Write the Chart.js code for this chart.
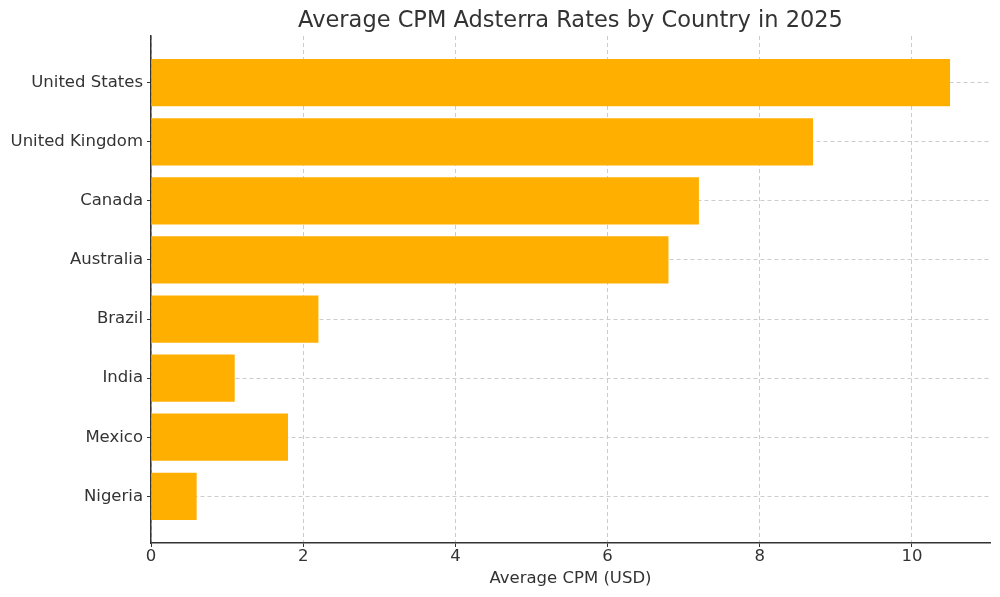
<!DOCTYPE html>
<html>
<head>
<meta charset="utf-8">
<title>Average CPM Adsterra Rates by Country in 2025</title>
<script src="https://cdn.jsdelivr.net/npm/chart.js@4/dist/chart.umd.min.js"></script>
<style>
  html, body { margin: 0; padding: 0; background: #fff; }
  #wrap { width: 1000px; height: 597px; }
</style>
</head>
<body>
<div id="wrap"><canvas id="cpmChart" width="1000" height="597"></canvas></div>
<script>
// data
const countries = ['United States', 'United Kingdom', 'Canada', 'Australia', 'Brazil', 'India', 'Mexico', 'Nigeria'];
const cpmValues = [10.5, 8.7, 7.2, 6.8, 2.2, 1.1, 1.8, 0.6];
const xTicks = [0, 2, 4, 6, 8, 10];

const FONT = "'DejaVu Sans', sans-serif";
const INK = '#333333';

const points = countries.map((c, i) => ({ x: cpmValues[i], y: i }));

const config = {
    type: 'bar',
    data: {
        datasets: [{
            label: 'Average CPM (USD)',
            data: points,
            backgroundColor: '#FFAF00',
            borderWidth: 0,
            barPercentage: 0.8,
            categoryPercentage: 1.0
        }]
    },
    options: {
        indexAxis: 'y',
        responsive: false,
        animation: false,
        layout: { padding: { left: 0, right: 10, top: 0, bottom: 8 } },
        plugins: {
            legend: { display: false },
            tooltip: { enabled: false },
            title: {
                display: true,
                text: 'Average CPM Adsterra Rates by Country in 2025',
                fullSize: false,
                color: INK,
                font: { family: FONT, size: 22.5, weight: 'normal' },
                padding: { top: 8, bottom: 1 }
            }
        },
        scales: {
            x: {
                type: 'linear',
                min: 0,
                max: 11.025,
                afterBuildTicks: function(axis) {
                    axis.ticks = xTicks.map(v => ({ value: v }));
                },
                afterFit: function(axis) { axis.height = 46; },
                ticks: {
                    color: INK,
                    font: { family: FONT, size: 16.5 },
                    padding: 0,
                    maxRotation: 0
                },
                grid: {
                    color: '#cccccc',
                    lineWidth: 1,
                    tickColor: INK,
                    tickLength: 4,
                    tickWidth: 1
                },
                border: { display: true, color: INK, width: 1.5, dash: [4, 3] },
                title: {
                    display: true,
                    text: 'Average CPM (USD)',
                    color: INK,
                    font: { family: FONT, size: 16.5 },
                    padding: { top: 2, bottom: 0 }
                }
            },
            y: {
                type: 'linear',
                reverse: true,
                offset: false,
                min: -0.79,
                max: 7.79,
                afterBuildTicks: function(axis) {
                    axis.ticks = countries.map((c, i) => ({ value: i }));
                },
                afterFit: function(axis) { axis.width = 151; },
                ticks: {
                    color: INK,
                    font: { family: FONT, size: 16.5 },
                    padding: 4,
                    callback: function(value) { return countries[value]; }
                },
                grid: {
                    offset: false,
                    color: '#cccccc',
                    lineWidth: 1,
                    tickColor: INK,
                    tickLength: 4,
                    tickWidth: 1
                },
                border: { display: true, color: INK, width: 1.5, dash: [4, 3] }
            }
        }
    }
};

new Chart(document.getElementById('cpmChart').getContext('2d'), config);
</script>
</body>
</html>
